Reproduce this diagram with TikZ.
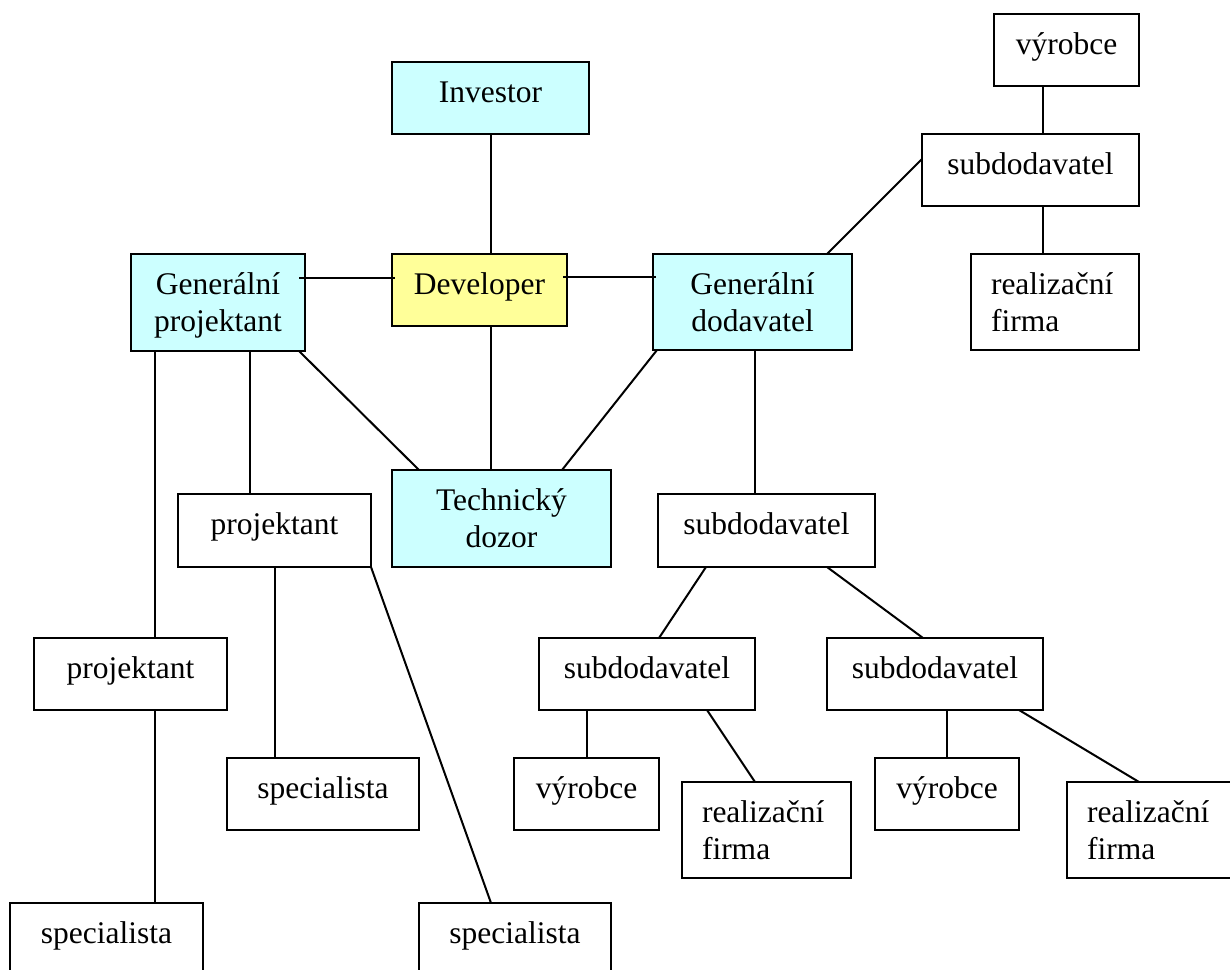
\documentclass[tikz,border=0pt]{standalone}
\usepackage{fontspec}
\setmainfont{Liberation Serif}
\usetikzlibrary{calc}
\definecolor{cyanfill}{HTML}{CCFFFF}
\definecolor{yellowfill}{HTML}{FFFF99}
\newcommand\bxc[3]{\parbox[c][#2pt][t]{#1pt}{\centering\rule{0pt}{40pt}#3}}
\newcommand\bxl[3]{\parbox[c][#2pt][t]{#1pt}{\raggedright\leftskip=20pt\rule{0pt}{40pt}#3}}
\tikzset{
  box/.style={draw=black, line width=1.5pt, fill=white, inner sep=0pt, outer sep=0pt,
    anchor=north west, font=\fontsize{31.5pt}{37pt}\selectfont},
  cyanbox/.style={box, fill=cyanfill},
  yellowbox/.style={box, fill=yellowfill},
  link/.style={draw=black, line width=2pt}
}
\begin{document}
\begin{tikzpicture}[x=1pt, y=-1pt]
\useasboundingbox (0,0) rectangle (1230,969);
\clip (0,0) rectangle (1230,969);
\fill[white] (0,0) rectangle (1230,969);

% boxes
\node[cyanbox] (inv) at (392,62) {\bxc{197}{72}{Investor}};
\node[yellowbox] (dev) at (392,254) {\bxc{175}{72}{Developer}};
\node[cyanbox] (gp) at (131,254) {\bxc{174}{97}{Generální\\projektant}};
\node[cyanbox] (gd) at (653,254) {\bxc{199}{96}{Generální\\dodavatel}};
\node[box] (vy0) at (994,14) {\bxc{145}{72}{výrobce}};
\node[box] (sd0) at (922,134) {\bxc{217}{72}{subdodavatel}};
\node[box] (rf0) at (971,254) {\bxl{168}{96}{realizační\\firma}};
\node[cyanbox] (td) at (392,470) {\bxc{219}{97}{Technický\\dozor}};
\node[box] (pj1) at (178,494) {\bxc{193}{73}{projektant}};
\node[box] (pj2) at (34,638) {\bxc{193}{72}{projektant}};
\node[box] (sp1) at (227,758) {\bxc{192}{72}{specialista}};
\node[box] (sp2) at (10,903) {\bxc{193}{72}{specialista}};
\node[box] (sp3) at (419,903) {\bxc{192}{72}{specialista}};
\node[box] (sd1) at (658,494) {\bxc{217}{73}{subdodavatel}};
\node[box] (sd2) at (539,638) {\bxc{216}{72}{subdodavatel}};
\node[box] (sd3) at (827,638) {\bxc{216}{72}{subdodavatel}};
\node[box] (vy1) at (514,758) {\bxc{145}{72}{výrobce}};
\node[box] (rf1) at (682,782) {\bxl{169}{96}{realizační\\firma}};
\node[box] (vy2) at (875,758) {\bxc{144}{72}{výrobce}};
\node[box] (rf2) at (1067,782) {\bxl{169}{96}{realizační\\firma}};

% connectors
\draw[link] ($(inv.south west)+(99,0)$) -- ($(dev.north west)+(99,0)$);
\draw[link] ($(dev.south west)+(99,0)$) -- ($(td.north west)+(99,0)$);
\draw[link] ($(gp.north east)+(-6,24)$) -- ($(dev.north west)+(3,24)$);
\draw[link] ($(dev.north east)+(-4,23)$) -- ($(gd.north west)+(3,23)$);
\draw[link] ($(gp.south east)+(-6,0)$) -- ($(td.north west)+(27,0)$);
\draw[link] ($(gd.south west)+(4,0)$) -- ($(td.north east)+(-49,0)$);
\draw[link] ($(gd.north east)+(-25,0)$) -- ($(sd0.north west)+(0,25)$);
\draw[link] ($(vy0.south west)+(49,0)$) coordinate (c1) -- (c1 |- sd0.north);
\draw[link] ($(sd0.south west)+(121,0)$) coordinate (c2) -- (c2 |- rf0.north);
\draw[link] ($(gp.south west)+(24,0)$) coordinate (c3) -- (c3 |- pj2.north);
\draw[link] ($(pj2.south west)+(121,0)$) coordinate (c4) -- (c4 |- sp2.north);
\draw[link] ($(gp.south west)+(119,0)$) coordinate (c5) -- (c5 |- pj1.north);
\draw[link] ($(pj1.south west)+(97,0)$) coordinate (c6) -- (c6 |- sp1.north);
\draw[link] (pj1.south east) -- ($(sp3.north west)+(72,0)$);
\draw[link] ($(gd.south west)+(102,0)$) coordinate (c7) -- (c7 |- sd1.north);
\draw[link] ($(sd1.south west)+(48,0)$) -- ($(sd2.north west)+(120,0)$);
\draw[link] ($(sd1.south west)+(169,0)$) -- ($(sd3.north west)+(96,0)$);
\draw[link] ($(sd2.south west)+(48,0)$) coordinate (c8) -- (c8 |- vy1.north);
\draw[link] ($(sd2.south west)+(168,0)$) -- ($(rf1.north west)+(73,0)$);
\draw[link] ($(sd3.south west)+(120,0)$) coordinate (c9) -- (c9 |- vy2.north);
\draw[link] ($(sd3.south west)+(192,0)$) -- ($(rf2.north west)+(72,0)$);
\end{tikzpicture}
\end{document}
